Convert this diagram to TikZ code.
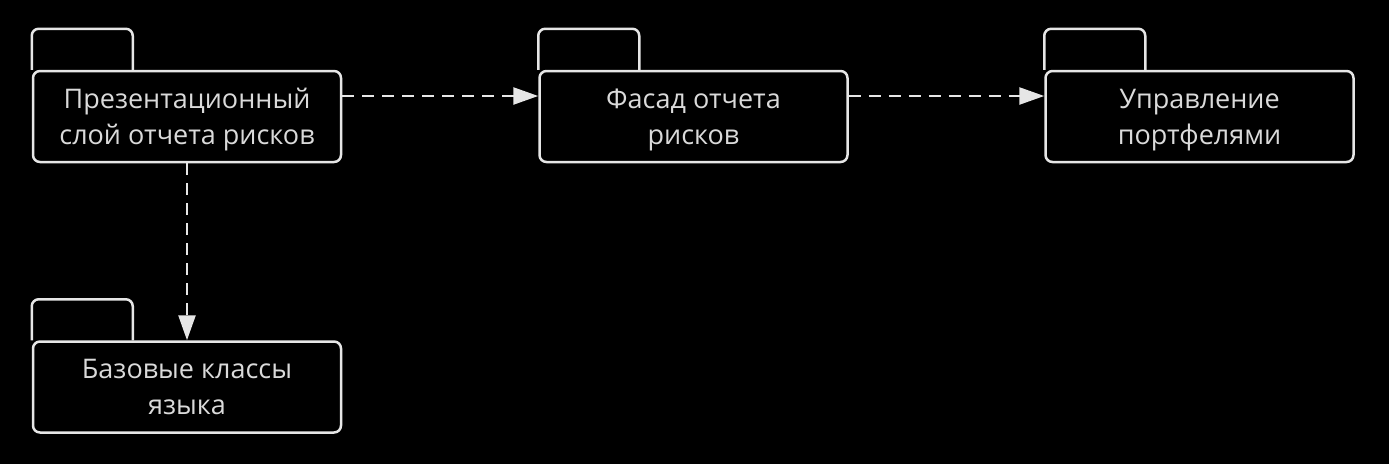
\documentclass[tikz,border=0pt]{standalone}
\usepackage{fontspec}
\setmainfont{Open Sans}
\usetikzlibrary{arrows.meta}
\usetikzlibrary{positioning}

\definecolor{inkgray}{HTML}{E6E6E6}
\definecolor{textgray}{HTML}{DADADA}

\newcommand{\pkgname}[2]{\rule{0pt}{28pt}#1\\#2\rule[-9pt]{0pt}{0pt}}

\tikzset{
  pkgbody/.style={draw=inkgray, line width=2.5pt, rounded corners=7pt,
    minimum width=308pt, minimum height=91pt, inner sep=0pt,
    align=center, text=textgray,
    font=\fontsize{27}{36}\selectfont},
  pkgtab/.style={draw=inkgray, line width=2.5pt, rounded corners=7pt},
  dep/.style={draw=inkgray, line width=2.5pt, dash pattern=on 12pt off 8pt,
    -{Triangle[length=25pt, width=17pt, fill=inkgray]}}
}

\begin{document}
\begin{tikzpicture}[x=1pt, y=-1pt]
 \fill[black] (0,0) rectangle (1389,464);
 \useasboundingbox (0,0) rectangle (1389,464);
 % packages
 \node[pkgbody] (pres) at (187,116.5) {\pkgname{Презентационный}{слой отчета рисков}};
 \node[pkgbody] (facade) at (693.5,116.5) {\pkgname{Фасад отчета}{рисков}};
 \node[pkgbody] (portf) at (1199.5,116.5) {\pkgname{Управление}{портфелями}};
 \node[pkgbody] (base) at (187,387) {\pkgname{Базовые классы}{языка}};
 % tabs
 \foreach \p in {pres,facade,portf,base}
   \draw[pkgtab] (\p.north west) -- ++(0,-41) -- ++(101,0) -- ++(0,41);
 % dependencies
 \draw[dep] ([yshift=20.5pt]pres.east) -- ([yshift=20.5pt]facade.west);
 \draw[dep] ([yshift=20.5pt]facade.east) -- ([yshift=20.5pt]portf.west);
 \draw[dep] (pres.south) -- (base.north);
\end{tikzpicture}
\end{document}
